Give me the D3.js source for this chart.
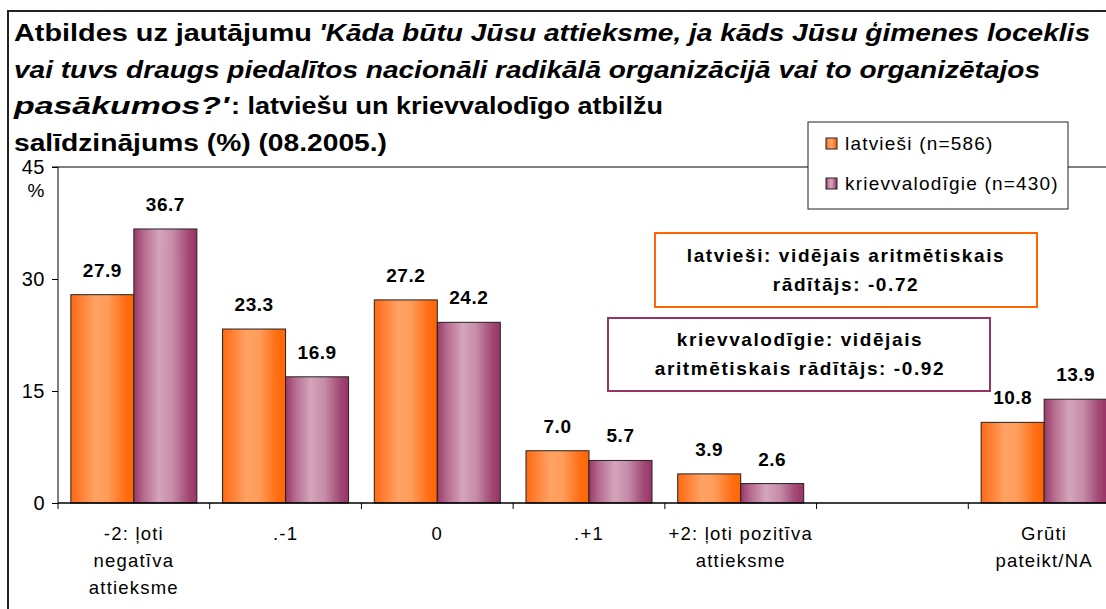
<!DOCTYPE html>
<html lang="lv">
<head>
<meta charset="UTF-8">
<title>Atbildes uz jautājumu</title>
<script src="https://d3js.org/d3.v7.min.js"></script>
<style>
    body { margin: 0; background: #fff; }
    svg text { font-family: "Liberation Sans", Arial, sans-serif; fill: #000; }
</style>
</head>
<body>
<svg id="chart" width="1106" height="609"></svg>
<script>
// data
const categories = ["-2: ļoti|negatīva|attieksme", ".-1", "0", ".+1", "+2: ļoti pozitīva|attieksme", "", "Grūti|pateikt/NA"];
const seriesNames = ["latvieši (n=586)", "krievvalodīgie (n=430)"];
const latviesi = [27.9, 23.3, 27.2, 7.0, 3.9, null, 10.8];
const krievvalodigie = [36.7, 16.9, 24.2, 5.7, 2.6, null, 13.9];
const yTicks = [0, 15, 30, 45];

const svg = d3.select("#chart");
const defs = svg.append("defs");

function gradient(id, stops) {
    const g = defs.append("linearGradient").attr("id", id)
        .attr("x1", 0).attr("x2", 1).attr("y1", 0).attr("y2", 0);
    stops.forEach(s => g.append("stop").attr("offset", s[0]).attr("stop-color", s[1]));
}
gradient("gOrange", [[0, "#FF6A12"], [0.12, "#FF7B2C"], [0.38, "#FFA264"], [0.58, "#FF9D5A"], [0.85, "#FF6F16"], [1, "#FF6600"]]);
gradient("gPurple", [[0, "#9A3868"], [0.15, "#B46A8D"], [0.4, "#D4A5BB"], [0.62, "#C58CA7"], [0.86, "#A24A76"], [1, "#993366"]]);
const fills = ["url(#gOrange)", "url(#gPurple)"];

// outer frame
svg.append("line").attr("x1", 8).attr("x2", 8).attr("y1", 10).attr("y2", 609)
    .attr("stroke", "#222").attr("stroke-width", 2);
svg.append("line").attr("x1", 7).attr("x2", 1106).attr("y1", 11).attr("y2", 11)
    .attr("stroke", "#222").attr("stroke-width", 2);

// title: [text, italic, x start, x end] -- glyphs are stretched wide in the original
const titleLines = [
    [["Atbildes uz jautājumu", false, 14, 312], ["'Kāda būtu Jūsu attieksme, ja kāds Jūsu ģimenes loceklis", true, 319, 1090]],
    [["vai tuvs draugs piedalītos nacionāli radikālā organizācijā vai to organizētajos", true, 14, 1040]],
    [["pasākumos?'", true, 14, 229], [": latviešu un krievvalodīgo atbilžu", false, 231, 663]],
    [["salīdzinājums (%) (08.2005.)", false, 14, 387]]
];
titleLines.forEach((parts, i) => {
    parts.forEach(p => {
        svg.append("text").attr("x", p[2]).attr("y", 41 + i * 36.7)
            .attr("font-size", 23.5).attr("font-weight", "bold")
            .attr("font-style", p[1] ? "italic" : "normal")
            .attr("textLength", p[3] - p[2]).attr("lengthAdjust", "spacingAndGlyphs")
            .text(p[0]);
    });
});

// scales
const margin = { left: 58, right: 1120, top: 167, bottom: 503 };
const x0 = d3.scaleBand().domain(d3.range(categories.length))
    .range([margin.left, margin.right]).paddingInner(0).paddingOuter(0);
const x1 = d3.scaleBand().domain([0, 1]).range([0, x0.bandwidth()])
    .paddingInner(0).paddingOuter(0.204);
const y = d3.scaleLinear().domain([0, 45]).range([margin.bottom, margin.top]);

// plot top border
svg.append("line").attr("x1", 52).attr("x2", 1106).attr("y1", y(45)).attr("y2", y(45))
    .attr("stroke", "#808080").attr("stroke-width", 2);

// y axis
const yAxis = svg.append("g").attr("transform", `translate(${margin.left},0)`)
    .call(d3.axisLeft(y).tickValues(yTicks).tickSize(6).tickPadding(7).tickFormat(d3.format("d")));
yAxis.select(".domain").attr("stroke", "#000").attr("d", `M0,${y(0)}V${y(45)}`);
yAxis.selectAll(".tick line").attr("stroke", "#000");
yAxis.selectAll(".tick text").attr("font-size", 20).attr("letter-spacing", 0.5)
    .attr("font-family", "Liberation Sans, Arial, sans-serif").attr("fill", "#000");
svg.append("text").attr("x", 36).attr("y", 197).attr("text-anchor", "middle")
    .attr("font-size", 19).text("%");

// bars
const data = [latviesi, krievvalodigie];
data.forEach((vals, s) => {
    const g = svg.append("g");
    vals.forEach((v, i) => {
        if (v === null) return;
        const bx = x0(i) + x1(s);
        g.append("rect").attr("x", bx).attr("y", y(v))
            .attr("width", x1.bandwidth()).attr("height", y(0) - y(v))
            .attr("fill", fills[s]).attr("stroke", "#222").attr("stroke-width", 1);
        g.append("text").attr("x", bx + x1.bandwidth() / 2).attr("y", y(v) - 18)
            .attr("text-anchor", "middle").attr("font-size", 19).attr("font-weight", "bold")
            .attr("letter-spacing", 0.5).text(v.toFixed(1));
    });
});

// x axis
svg.append("line").attr("x1", margin.left).attr("x2", 1106).attr("y1", y(0)).attr("y2", y(0))
    .attr("stroke", "#000").attr("stroke-width", 1.5);
d3.range(categories.length + 1).forEach(i => {
    const tx = margin.left + i * x0.step();
    svg.append("line").attr("x1", tx).attr("x2", tx).attr("y1", y(0)).attr("y2", y(0) + 6)
        .attr("stroke", "#000");
});
categories.forEach((c, i) => {
    const t = svg.append("text").attr("text-anchor", "middle").attr("font-size", 18.5)
        .attr("letter-spacing", 1.2);
    c.split("|").forEach((line, k) => {
        t.append("tspan").attr("x", x0(i) + x0.bandwidth() / 2).attr("y", 540 + k * 27).text(line);
    });
});

// legend
const legend = svg.append("g");
legend.append("rect").attr("x", 808).attr("y", 122).attr("width", 260).attr("height", 87)
    .attr("fill", "#fff").attr("stroke", "#222");
seriesNames.forEach((n, i) => {
    legend.append("rect").attr("x", 826).attr("y", 138 + i * 40).attr("width", 11).attr("height", 11)
        .attr("fill", fills[i]).attr("stroke", "#222");
    legend.append("text").attr("x", 845).attr("y", 150 + i * 40).attr("font-size", 19)
        .attr("letter-spacing", 1.2).text(n);
});

// annotation boxes
function note(bx, by, w, h, color, lines, cx, base) {
    svg.append("rect").attr("x", bx).attr("y", by).attr("width", w).attr("height", h)
        .attr("fill", "#fff").attr("stroke", color).attr("stroke-width", 2);
    lines.forEach((l, k) => {
        svg.append("text").attr("x", cx).attr("y", base + k * 29)
            .attr("text-anchor", "middle").attr("font-size", 19).attr("font-weight", "bold")
            .attr("letter-spacing", 1.6).text(l);
    });
}
note(655, 233, 382, 74, "#FF6600", ["latvieši: vidējais aritmētiskais", "rādītājs: -0.72"], 846, 262);
note(608, 318, 382, 73, "#993366", ["krievvalodīgie: vidējais", "aritmētiskais rādītājs: -0.92"], 800, 346);
</script>
</body>
</html>
